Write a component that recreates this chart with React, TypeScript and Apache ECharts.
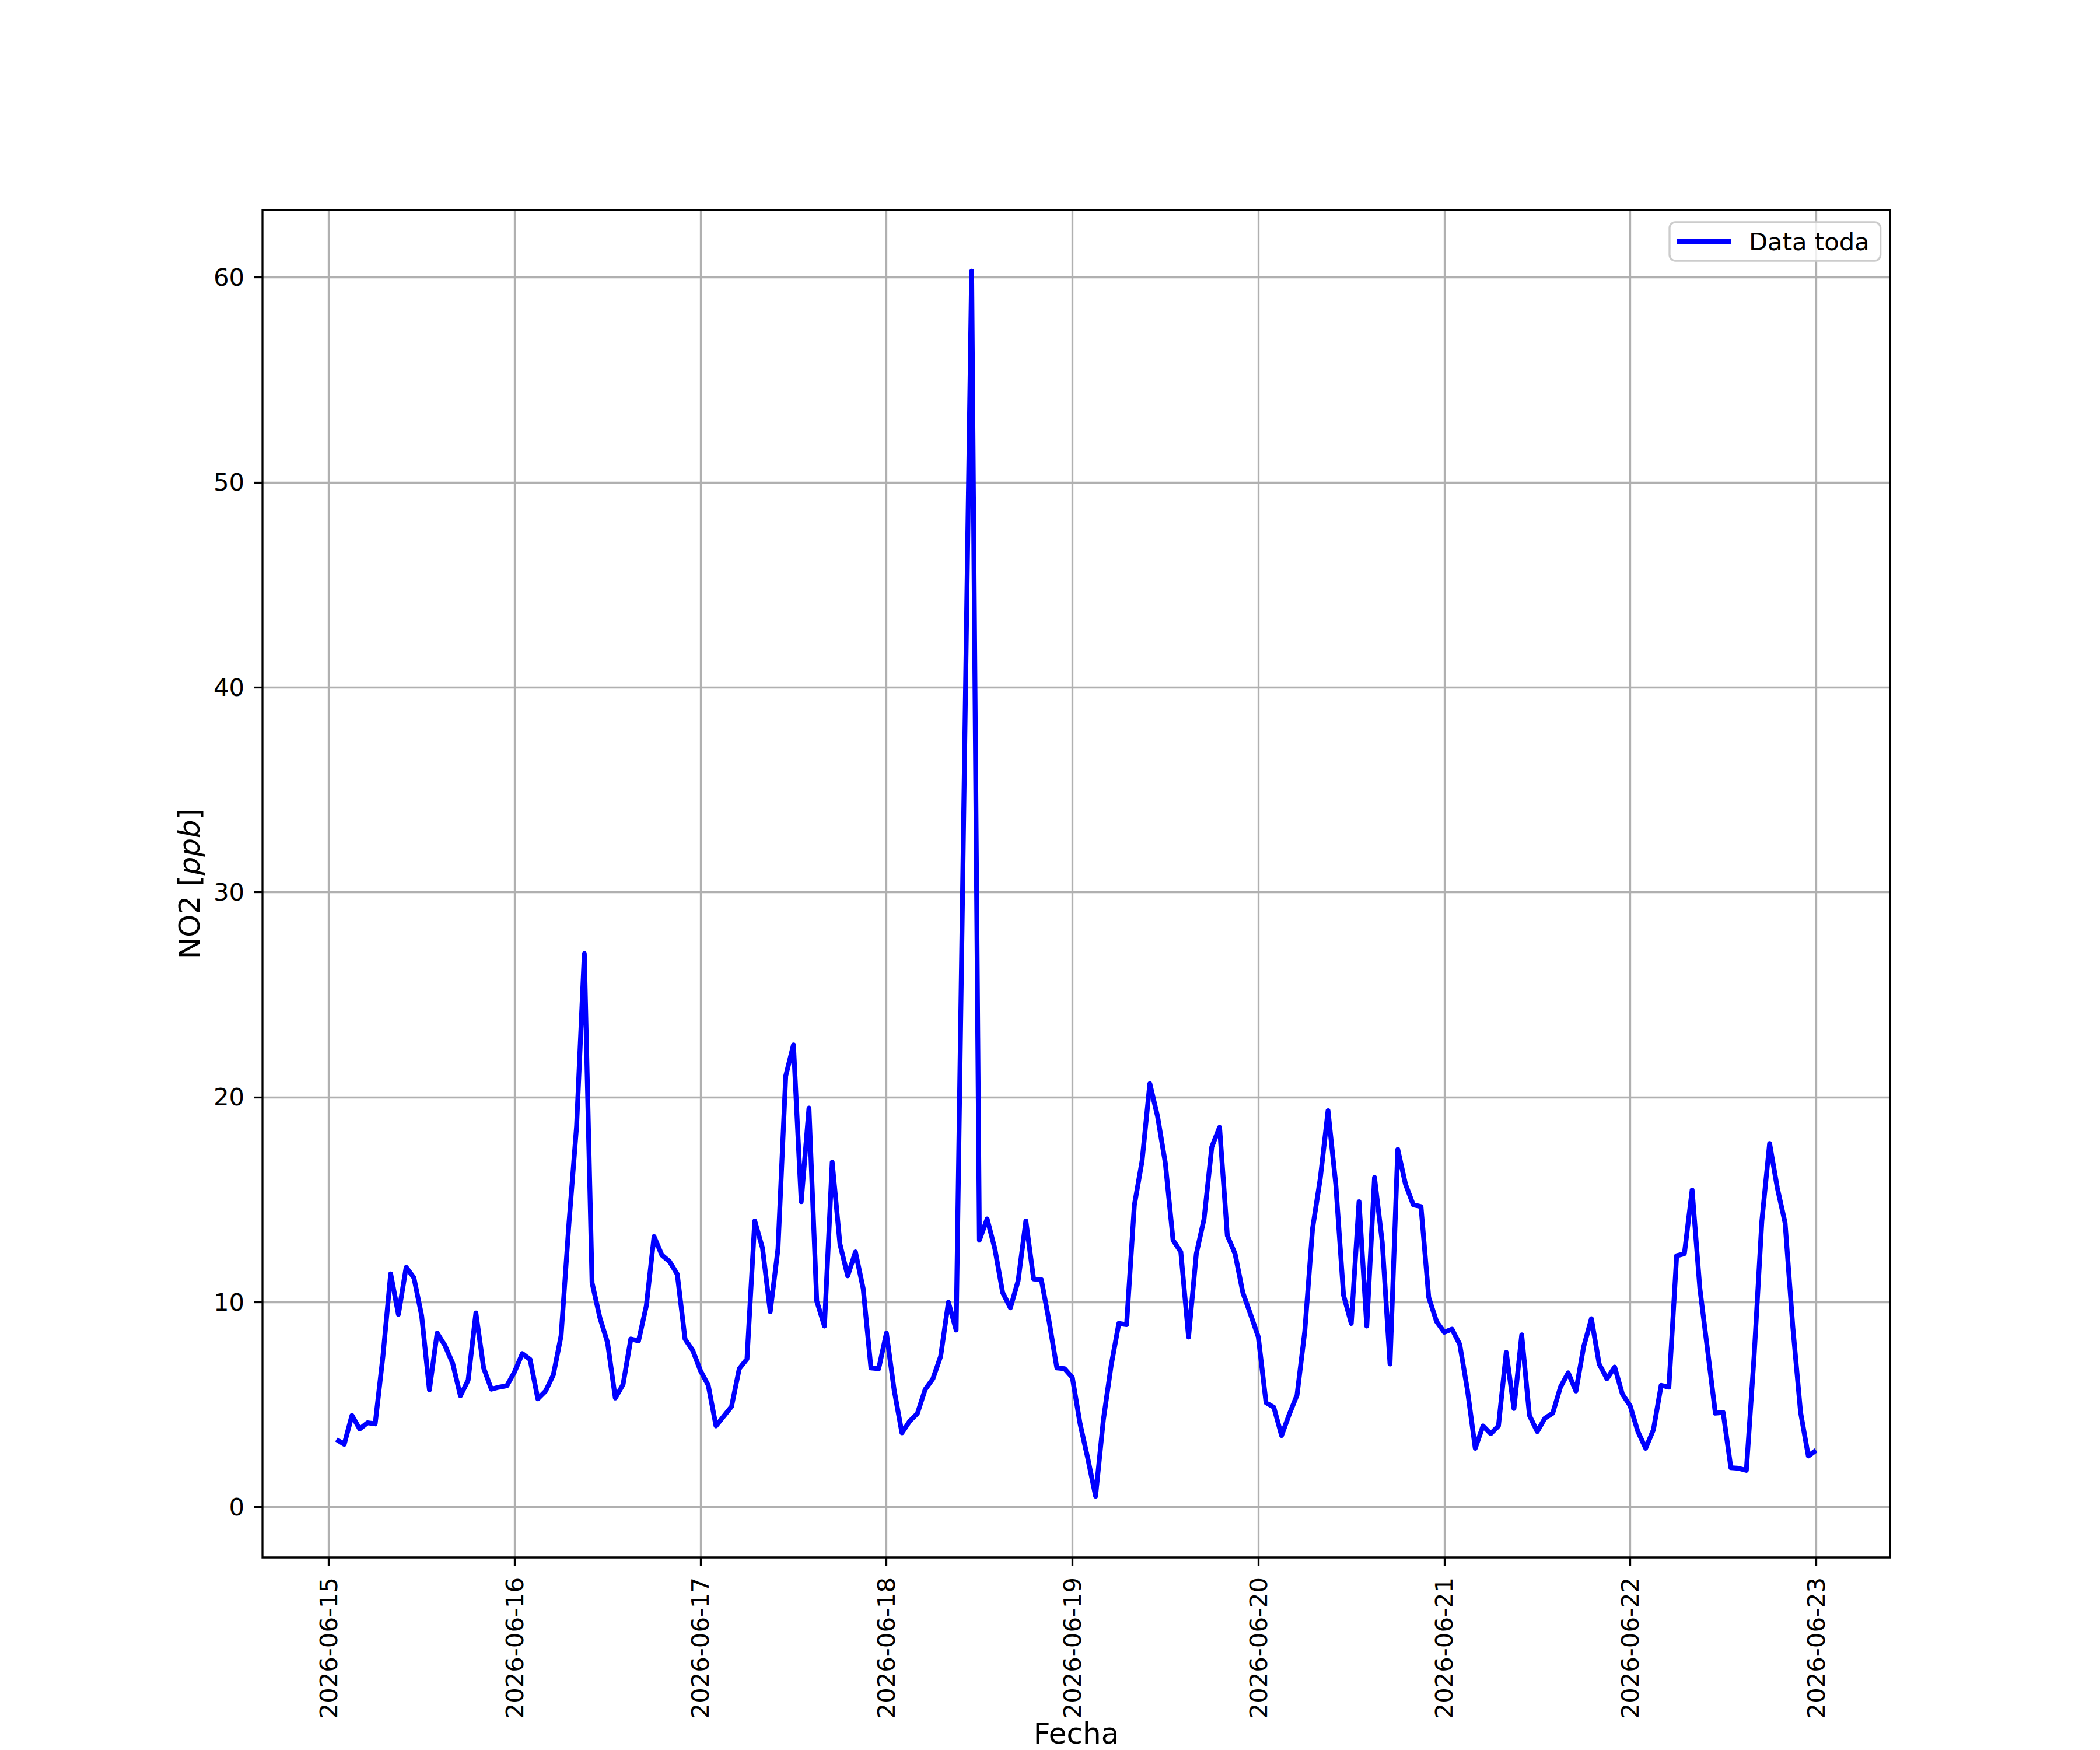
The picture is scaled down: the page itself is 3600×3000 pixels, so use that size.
import React, { useEffect, useRef } from "react";
import * as echarts from "echarts";

// Hourly NO2 [ppb] readings, from 2026-06-15 01:00 (UTC) to 2026-06-23 00:00.
// Each array holds 24 hours: 01:00 of the named day through 00:00 of the next day.
const no2_0615: (number | null)[] = [3.3, 3.06, 4.47, 3.81, 4.11, 4.06, 7.36, 11.38, 9.4, 11.7, 11.19, 9.34, 5.72, 8.49, 7.89, 7.02, 5.43, 6.19, 9.47, 6.79, 5.75, 5.85, 5.92, 6.6];
const no2_0616: (number | null)[] = [7.49, 7.2, 5.28, 5.66, 6.45, 8.36, 13.77, 18.58, 27.0, 10.94, 9.25, 8.02, 5.32, 5.98, 8.2, 8.11, 9.81, 13.2, 12.3, 11.98, 11.36, 8.2, 7.64, 6.65];
const no2_0617: (number | null)[] = [5.94, 3.96, 4.43, 4.9, 6.75, 7.23, 13.96, 12.64, 9.53, 12.6, 21.04, 22.55, 14.9, 19.47, 10.06, 8.83, 16.83, 12.83, 11.28, 12.45, 10.66, 6.79, 6.75, 8.49];
const no2_0618: (number | null)[] = [5.7, 3.62, 4.19, 4.57, 5.74, 6.26, 7.36, 10.0, 8.64, null, 60.3, 13.02, 14.06, 12.6, 10.47, 9.72, 11.04, 13.96, 11.13, 11.09, 9.06, 6.79, 6.75, 6.32];
const no2_0619: (number | null)[] = [4.06, 2.36, 0.53, 4.25, 6.89, 8.96, 8.9, 14.72, 16.89, 20.66, 19.06, 16.79, 13.02, 12.45, 8.3, 12.36, 14.06, 17.58, 18.53, 13.25, 12.36, 10.47, 9.4, 8.3];
const no2_0620: (number | null)[] = [5.09, 4.87, 3.49, 4.53, 5.47, 8.58, 13.58, 16.04, 19.34, 15.75, 10.34, 8.96, 14.9, 8.83, 16.08, 12.92, 6.98, 17.45, 15.75, 14.75, 14.66, 10.23, 9.06, 8.53];
const no2_0621: (number | null)[] = [8.68, 7.94, 5.7, 2.87, 3.96, 3.58, 3.96, 7.55, 4.81, 8.4, 4.47, 3.68, 4.34, 4.58, 5.85, 6.55, 5.66, 7.83, 9.19, 6.98, 6.26, 6.83, 5.51, 4.94];
const no2_0622: (number | null)[] = [3.68, 2.87, 3.77, 5.94, 5.85, 12.26, 12.36, 15.47, 10.66, 7.64, 4.58, 4.62, 1.92, 1.89, 1.79, 7.36, 13.96, 17.74, 15.57, 13.87, 8.77, 4.62, 2.49, 2.77];

const dayArrays = [no2_0615, no2_0616, no2_0617, no2_0618, no2_0619, no2_0620, no2_0621, no2_0622];

const startTime = Date.UTC(2026, 5, 15, 1, 0, 0);
const HOUR = 3600 * 1000;
const DAY = 24 * HOUR;

const xTickDays = ["2026-06-15", "2026-06-16", "2026-06-17", "2026-06-18", "2026-06-19", "2026-06-20", "2026-06-21", "2026-06-22", "2026-06-23"];
const yTicks = [0, 10, 20, 30, 40, 50, 60];

const seriesName = "Data toda";
const xName = "Fecha";

const FONT = "DejaVu Sans";

export default function App() {
  const ref = useRef<HTMLDivElement>(null);

  useEffect(() => {
    if (!ref.current) return;
    const chart = echarts.init(ref.current, undefined, { renderer: "svg" });

    const values = dayArrays.flat();
    const data = values.map((v, i) => [startTime + i * HOUR, v]);

    const nums = values.filter((v) => v != null) as number[];
    const vMin = Math.min(...nums);
    const vMax = Math.max(...nums);
    const vPad = (vMax - vMin) * 0.05;
    const t0 = startTime;
    const t1 = startTime + (values.length - 1) * HOUR;
    const tPad = (t1 - t0) * 0.05;

    const xTickValues = xTickDays.map((d) => Date.parse(d + "T00:00:00Z"));

    const option: any = {
      animation: false,
      backgroundColor: "#ffffff",
      textStyle: { fontFamily: FONT },
      grid: {
        left: 450,
        top: 360,
        width: 2790,
        height: 2310,
        show: false,
        containLabel: false,
        outerBoundsMode: "none",
      },
      xAxis: {
        type: "value",
        min: t0 - tPad,
        max: t1 + tPad,
        minInterval: DAY,
        maxInterval: DAY,
        name: xName,
        nameLocation: "middle",
        nameGap: 276,
        nameMoveOverlap: false,
        nameTextStyle: { fontSize: 50, lineHeight: 52, fontFamily: FONT, color: "#000" },
        axisLine: { show: false, onZero: false },
        axisTick: {
          show: true,
          length: 14.6,
          inside: false,
          customValues: xTickValues,
          lineStyle: { color: "#000", width: 3.3 },
        },
        axisLabel: {
          show: true,
          rotate: 90,
          margin: 34,
          fontSize: 41.7,
          fontFamily: FONT,
          color: "#000",
          customValues: xTickValues,
          formatter: (v: number) => new Date(v).toISOString().slice(0, 10),
        },
        splitLine: { show: true, lineStyle: { color: "#b0b0b0", width: 3.3 } },
      },
      yAxis: {
        type: "value",
        min: vMin - vPad,
        max: vMax + vPad,
        minInterval: 10,
        maxInterval: 10,
        name: "NO2 [{i|ppb}]",
        nameLocation: "middle",
        nameRotate: 90,
        nameGap: 100,
        nameMoveOverlap: false,
        nameTextStyle: {
          fontSize: 50,
          fontFamily: FONT,
          color: "#000",
          rich: { i: { fontSize: 50, fontFamily: FONT, fontStyle: "italic", color: "#000" } },
        },
        axisLine: { show: false, onZero: false },
        axisTick: {
          show: true,
          length: 14.6,
          inside: false,
          customValues: yTicks,
          lineStyle: { color: "#000", width: 3.3 },
        },
        axisLabel: {
          show: true,
          margin: 31,
          fontSize: 41.7,
          fontFamily: FONT,
          color: "#000",
          customValues: yTicks,
        },
        splitLine: { show: true, lineStyle: { color: "#b0b0b0", width: 3.3 } },
      },
      legend: {
        show: true,
        data: [seriesName],
        left: 2862,
        top: 381,
        orient: "horizontal",
        icon: "rect",
        itemWidth: 92,
        itemHeight: 8.3,
        padding: [12, 19, 12, 13],
        backgroundColor: "rgba(255,255,255,0.8)",
        borderColor: "#cccccc",
        borderWidth: 3.3,
        borderRadius: 10,
        textStyle: { fontSize: 41.7, fontFamily: FONT, color: "#000", padding: [0, 0, 0, 26] },
        z: 10,
      },
      graphic: [
        {
          type: "rect",
          silent: true,
          z: 100,
          shape: { x: 450, y: 360, width: 2790, height: 2310 },
          style: { fill: "none", stroke: "#000", lineWidth: 3.3 },
        },
      ],
      series: [
        {
          name: seriesName,
          type: "line",
          data,
          color: "#0000ff",
          symbol: "none",
          showSymbol: false,
          connectNulls: true,
          clip: true,
          lineStyle: { color: "#0000ff", width: 8.3, join: "round" },
          z: 3,
        },
      ],
    };

    chart.setOption(option);
    return () => chart.dispose();
  }, []);

  return (
    <div
      ref={ref}
      style={{ position: "absolute", left: 0, top: 0, width: 3600, height: 3000, background: "#fff" }}
    />
  );
}
